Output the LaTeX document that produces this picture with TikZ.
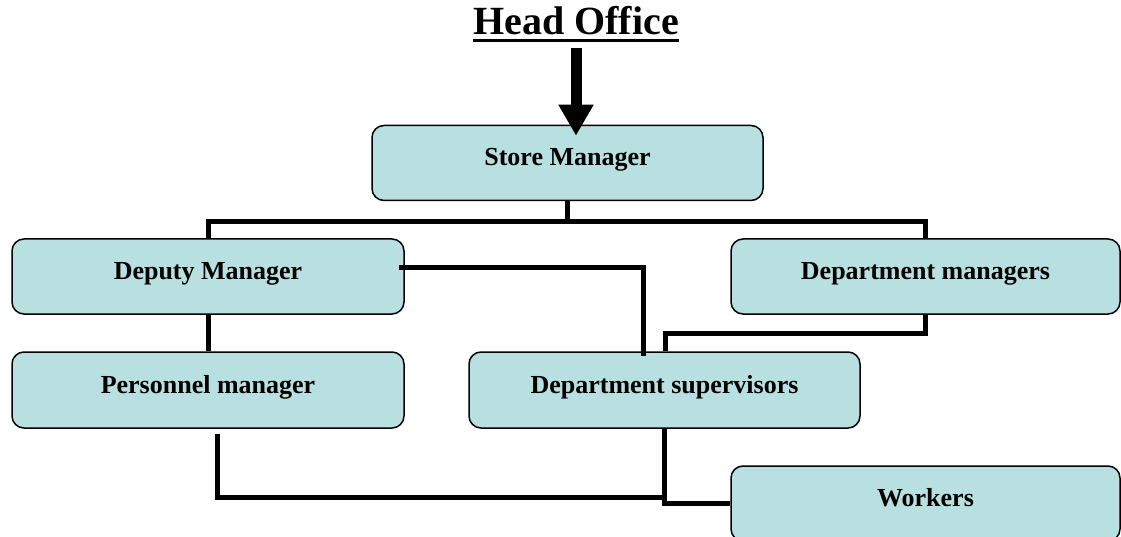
\documentclass[tikz,border=0pt]{standalone}
\usepackage{fontspec}
\setmainfont{Liberation Serif}
\usetikzlibrary{arrows.meta}
\definecolor{boxfill}{HTML}{B9E0E1}
\tikzset{
  box/.style={draw=black, line width=1.5pt, fill=boxfill, rounded corners=12pt,
    minimum width=391pt, minimum height=75pt, inner sep=0pt,
    font=\fontsize{26}{30}\selectfont\bfseries, text height=17pt, text depth=11pt},
  conn/.style={draw=black, line width=5pt},
  bigarrow/.style={draw=black, line width=11pt, -{Triangle[width=33pt,length=31pt]}},
}
\begin{document}
\begin{tikzpicture}[x=1pt,y=-1pt]
\useasboundingbox (0,0) rectangle (1121,537);
\node[inner sep=0pt, font=\fontsize{40}{44}\selectfont\bfseries, anchor=base] (ho) at (576,35) {Head Office};
\draw[line width=3pt] ([yshift=-5.5pt]ho.base west) -- ([yshift=-5.5pt]ho.base east);

\node[box] (sm) at (567.5,163) {Store Manager};
\node[box, minimum width=392pt] (dep) at (208,276.5) {Deputy Manager};
\node[box, minimum width=389pt] (dmg) at (925.5,276.5) {Department managers};
\node[box, minimum width=392pt, minimum height=76pt] (pm) at (208,390) {Personnel manager};
\node[box, minimum height=76pt] (ds) at (664.5,390) {Department supervisors};
\node[box, minimum width=389pt] (wk) at (925.5,503.5) {Workers};

\coordinate (tip) at (ho.base |- sm.north);
\draw[bigarrow] ([yshift=-13pt]ho.base) -- ([yshift=-11pt]tip);

\draw[conn] (sm.south) -- ++(0,20) -| (dep.north);
\draw[conn] (sm.south) -- ++(0,20) -| (dmg.north);
\draw[conn] (dep.south) -- (pm.north);
\draw[conn] ([xshift=-6pt,yshift=8.5pt]dep.east) -| ([xshift=-21.5pt,yshift=-5pt]ds.north);
\draw[conn] (dmg.south) -- ++(0,19) -| ([xshift=1pt]ds.north);
\draw[conn] ([xshift=9pt,yshift=-5pt]pm.south) |- ([yshift=-69pt]ds.south);
\draw[conn] (ds.south) |- (wk.west);
\end{tikzpicture}
\end{document}
